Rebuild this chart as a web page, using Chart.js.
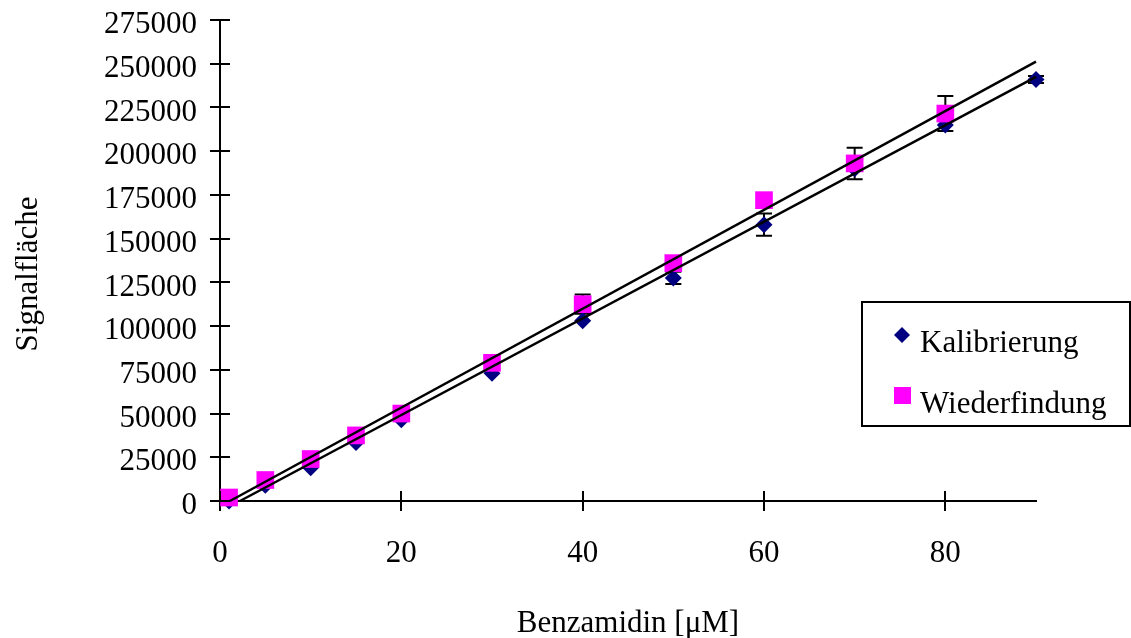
<!DOCTYPE html>
<html><head><meta charset="utf-8">
<script src="https://cdn.jsdelivr.net/npm/chart.js@4.4.1/dist/chart.umd.min.js"></script>
<style>html,body{margin:0;padding:0;background:#fff;} canvas{display:block;}</style>
</head><body>
<canvas id="c" width="1131" height="638"></canvas>
<script>
// ---- data ----
const xKal    = [1, 5, 10, 15, 20, 30, 40, 50, 60, 70, 80, 90];
const yKal    = [0, 9000, 19000, 33500, 46500, 73000, 103000, 127500, 158000, 190000, 215000, 241000];
const errKal  = [0, 0, 0, 0, 0, 0, 0, 3500, 6300, 0, 0, 2000];
const xWied   = [1, 5, 10, 15, 20, 30, 40, 50, 60, 70, 80];
const yWied   = [2000, 12000, 24000, 37500, 50000, 79000, 112500, 136000, 172000, 193000, 221500];
const errWied = [0, 0, 0, 0, 0, 0, 5500, 0, 0, 9000, 10000];
const fitKalX  = [2.2, 90];
const fitKalY  = [0, 242500];
const fitWiedX = [1.1, 90];
const fitWiedY = [0, 251200];
const xTickValues = [0, 20, 40, 60, 80];
const yTickValues = [0, 25000, 50000, 75000, 100000, 125000, 150000, 175000, 200000, 225000, 250000, 275000];
const labelKal = 'Kalibrierung';
const labelWied = 'Wiederfindung';
const xTitle = 'Benzamidin [μM]';
const yTitle = 'Signalfläche';

const FONT = "'Liberation Serif', 'Times New Roman', serif";
const FS = 31;
const pts = (xs, ys) => xs.map((x, i) => ({x, y: ys[i]}));

const crossTicks = {
  id: 'crossTicks',
  afterDatasetsDraw(chart) {
    const ctx = chart.ctx, xs = chart.scales.x, ys = chart.scales.y;
    ctx.save();
    ctx.strokeStyle = '#000'; ctx.lineWidth = 2;
    ys.ticks.forEach(t => {
      const py = Math.round(ys.getPixelForValue(t.value));
      ctx.beginPath(); ctx.moveTo(xs.left, py); ctx.lineTo(xs.left + 10, py); ctx.stroke();
    });
    xs.ticks.forEach(t => {
      const px = Math.round(xs.getPixelForValue(t.value));
      ctx.beginPath(); ctx.moveTo(px, ys.bottom); ctx.lineTo(px, ys.bottom - 10); ctx.stroke();
    });
    ctx.restore();
  }
};

const errorBars = {
  id: 'errorBars',
  beforeDatasetsDraw(chart) {
    const ctx = chart.ctx, xs = chart.scales.x, ys = chart.scales.y;
    ctx.save();
    ctx.strokeStyle = '#000'; ctx.lineWidth = 2;
    const draw = (xv, yv, ev) => {
      xv.forEach((x, i) => {
        const e = ev[i]; if (!e) return;
        const px = xs.getPixelForValue(x);
        const p1 = ys.getPixelForValue(yv[i] - e), p2 = ys.getPixelForValue(yv[i] + e);
        ctx.beginPath();
        ctx.moveTo(px, p1); ctx.lineTo(px, p2);
        ctx.moveTo(px - 8, p1); ctx.lineTo(px + 8, p1);
        ctx.moveTo(px - 8, p2); ctx.lineTo(px + 8, p2);
        ctx.stroke();
      });
    };
    draw(xKal, yKal, errKal);
    draw(xWied, yWied, errWied);
    ctx.restore();
  }
};

const yTitlePlugin = {
  id: 'yTitlePlugin',
  afterDraw(chart) {
    const ctx = chart.ctx;
    ctx.save();
    ctx.translate(29, 274);
    ctx.rotate(-Math.PI / 2);
    ctx.fillStyle = '#000';
    ctx.font = FS + 'px ' + FONT;
    ctx.textAlign = 'center';
    ctx.textBaseline = 'middle';
    ctx.fillText(yTitle, 0, 0);
    ctx.restore();
  }
};

const boxLegend = {
  id: 'boxLegend',
  afterDraw(chart) {
    const ctx = chart.ctx;
    const dsK = chart.data.datasets[3], dsW = chart.data.datasets[2];
    ctx.save();
    ctx.fillStyle = '#fff';
    ctx.fillRect(862, 302, 268, 124);
    ctx.strokeStyle = '#000'; ctx.lineWidth = 2;
    ctx.strokeRect(862, 302, 268, 124);
    ctx.fillStyle = dsK.backgroundColor;
    ctx.beginPath();
    ctx.moveTo(902, 327); ctx.lineTo(910, 335); ctx.lineTo(902, 343); ctx.lineTo(894, 335); ctx.closePath();
    ctx.fill();
    ctx.fillStyle = dsW.backgroundColor;
    ctx.fillRect(894, 387, 17, 17);
    ctx.fillStyle = '#000';
    ctx.font = FS + 'px ' + FONT;
    ctx.textBaseline = 'alphabetic';
    ctx.fillText(dsK.label, 920, 352);
    ctx.fillText(dsW.label, 920, 413);
    ctx.restore();
  }
};

new Chart(document.getElementById('c'), {
  type: 'scatter',
  data: {
    datasets: [
      { label: 'fitW', data: pts(fitWiedX, fitWiedY), showLine: true, borderColor: '#000', borderWidth: 2.5, pointRadius: 0, order: 0, clip: false },
      { label: 'fitK', data: pts(fitKalX, fitKalY), showLine: true, borderColor: '#000', borderWidth: 2.5, pointRadius: 0, order: 1, clip: false },
      { label: labelWied, data: pts(xWied, yWied), pointStyle: 'rect', pointRadius: 12.5, backgroundColor: '#FF00FF', borderWidth: 0, order: 2, clip: false },
      { label: labelKal, data: pts(xKal, yKal), pointStyle: 'rectRot', pointRadius: 8.5, backgroundColor: '#000080', borderWidth: 0, order: 3, clip: false }
    ]
  },
  options: {
    responsive: false,
    animation: false,
    devicePixelRatio: 1,
    layout: { padding: { top: 20, right: 95, left: 0, bottom: 0 } },
    plugins: { legend: { display: false }, tooltip: { enabled: false } },
    scales: {
      x: {
        type: 'linear', min: 0, max: 90,
        afterBuildTicks: s => { s.ticks = xTickValues.map(v => ({value: v})); },
        afterFit: s => { s.height = 638 - 501; s.paddingLeft = 0; s.paddingRight = 0; },
        ticks: { color: '#000', font: { family: FONT, size: FS }, padding: 24, maxRotation: 0, callback: v => String(v) },
        grid: { drawOnChartArea: false, drawTicks: true, tickLength: 10, color: '#000', lineWidth: 2 },
        border: { color: '#000', width: 2 },
        title: { display: true, text: xTitle, color: '#000', font: { family: FONT, size: FS }, padding: { top: 0, bottom: -4 } }
      },
      y: {
        type: 'linear', min: 0, max: 275000,
        afterBuildTicks: s => { s.ticks = yTickValues.map(v => ({value: v})); },
        afterFit: s => { s.width = 220; s.paddingTop = 0; s.paddingBottom = 0; },
        ticks: { color: '#000', font: { family: FONT, size: FS }, padding: 13, labelOffset: 5, callback: v => String(v) },
        grid: { drawOnChartArea: false, drawTicks: true, tickLength: 10, color: '#000', lineWidth: 2 },
        border: { color: '#000', width: 2 },
        title: { display: false }
      }
    }
  },
  plugins: [errorBars, crossTicks, yTitlePlugin, boxLegend]
});
</script>
</body></html>
